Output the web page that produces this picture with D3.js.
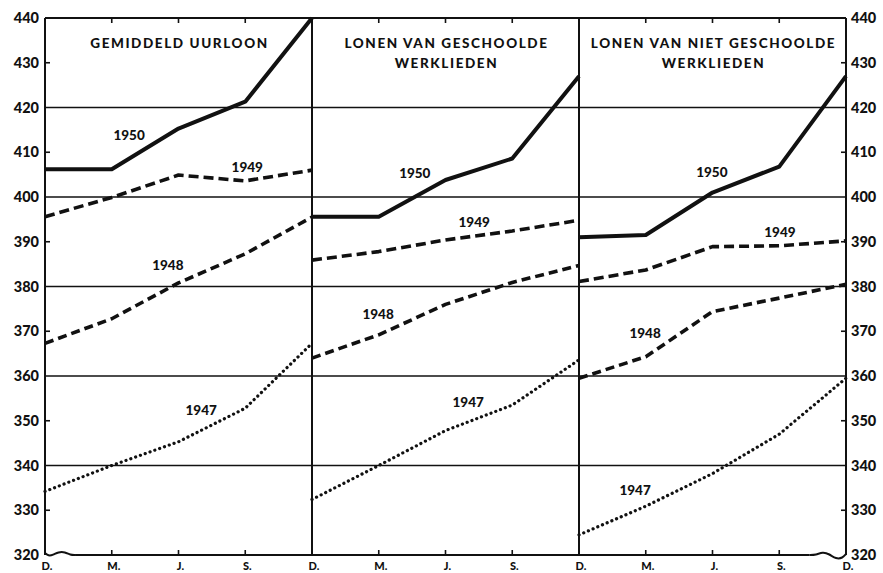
<!DOCTYPE html>
<html>
<head>
<meta charset="utf-8">
<script src="https://cdn.jsdelivr.net/npm/d3@7"></script>
<style>
  body { margin: 0; background: #fff; }
  svg { display: block; }
  text { font-family: Lato, "Open Sans", sans-serif; font-weight: 900; fill: #111; }
</style>
</head>
<body>
<svg id="chart" width="883" height="573"></svg>
<script>
// data (index numbers, one value per month D. M. J. S. D.)
const months = ['D.', 'M.', 'J.', 'S.', 'D.'];
const years = ['1950', '1949', '1948', '1947'];
const yTicks = [320, 330, 340, 350, 360, 370, 380, 390, 400, 410, 420, 430, 440];
const gridValues = [340, 360, 380, 400, 420];

const titles = [
  ['GEMIDDELD UURLOON'],
  ['LONEN VAN GESCHOOLDE', 'WERKLIEDEN'],
  ['LONEN VAN NIET GESCHOOLDE', 'WERKLIEDEN'],
];

// gemiddeld uurloon
const avg1950 = [406.2, 406.2, 415.3, 421.3, 440];
const avg1949 = [395.6, 399.9, 404.9, 403.6, 406];
const avg1948 = [367.3, 372.8, 380.8, 387.3, 395.5];
const avg1947 = [334.2, 340, 345.3, 352.8, 367.3];

// geschoolde werklieden
const skilled1950 = [395.6, 395.6, 403.8, 408.6, 427];
const skilled1949 = [385.9, 387.8, 390.4, 392.4, 394.8];
const skilled1948 = [364, 369.2, 376, 380.9, 384.7];
const skilled1947 = [332.4, 340, 347.8, 353.5, 363.6];

// niet geschoolde werklieden
const unskilled1950 = [391, 391.5, 401, 406.8, 427];
const unskilled1949 = [381.1, 383.7, 388.9, 389.1, 390.2];
const unskilled1948 = [359.5, 364.3, 374.4, 377.4, 380.5];
const unskilled1947 = [324.5, 330.9, 338.2, 347, 359.5];

// where the year labels sit, in month steps within a panel and index values
const labelSpots = [
  [[1.26, 413.9], [3.03, 406.7], [1.84, 384.8], [2.34, 352.4]],
  [[1.54, 405.4], [2.43, 394.3], [0.99, 373.9], [2.34, 354.2]],
  [[1.99, 405.6], [3.01, 392.2], [0.99, 369.6], [0.84, 334.5]],
];

const panels = [
  [avg1950, avg1949, avg1948, avg1947],
  [skilled1950, skilled1949, skilled1948, skilled1947],
  [unskilled1950, unskilled1949, unskilled1948, unskilled1947],
];

const margin = {left: 45, right: 37, top: 18, bottom: 18};
const W = 883, H = 573;
const svg = d3.select('#chart');

const x = d3.scaleLinear().domain([0, 12]).range([margin.left, W - margin.right]);
const y = d3.scaleLinear().domain([320, 440]).range([H - margin.bottom, margin.top]);

const styles = [
  {width: 4, dash: null, cap: 'butt'},
  {width: 3.6, dash: '10,5', cap: 'butt'},
  {width: 3.6, dash: '9,5', cap: 'butt'},
  {width: 3.2, dash: '0.1,5', cap: 'round'},
];

// gridlines
svg.append('g')
  .selectAll('line')
  .data(gridValues)
  .join('line')
  .attr('x1', x(0))
  .attr('x2', x(12))
  .attr('y1', d => y(d))
  .attr('y2', d => y(d))
  .attr('stroke', '#111')
  .attr('stroke-width', 1.6);

// y labels both sides
svg.append('g')
  .attr('transform', `translate(${x(0)},0)`)
  .call(d3.axisLeft(y).tickValues(yTicks).tickSize(0).tickPadding(6))
  .call(g => g.select('.domain').remove())
  .call(g => g.selectAll('text').style('font-size', '14.5px').attr('fill', '#111'));

svg.append('g')
  .attr('transform', `translate(${x(12)},0)`)
  .call(d3.axisRight(y).tickValues(yTicks).tickSize(0).tickPadding(5))
  .call(g => g.select('.domain').remove())
  .call(g => g.selectAll('text').style('font-size', '14.5px').attr('fill', '#111'));

// small ticks on the odd tens
const oddTicks = yTicks.filter(d => d % 20 === 10);
svg.append('g')
  .selectAll('line')
  .data(oddTicks)
  .join('line')
  .attr('x1', x(0))
  .attr('x2', x(0) + 5)
  .attr('y1', d => y(d))
  .attr('y2', d => y(d))
  .attr('stroke', '#111')
  .attr('stroke-width', 1.6);
svg.append('g')
  .selectAll('line')
  .data(oddTicks)
  .join('line')
  .attr('x1', x(12))
  .attr('x2', x(12) - 5)
  .attr('y1', d => y(d))
  .attr('y2', d => y(d))
  .attr('stroke', '#111')
  .attr('stroke-width', 1.6);

// month ticks top and bottom, and month labels
const monthIdx = d3.range(13);
svg.append('g')
  .selectAll('line')
  .data(monthIdx.filter(i => i % 4 !== 0))
  .join('line')
  .attr('x1', d => x(d))
  .attr('x2', d => x(d))
  .attr('y1', y(440))
  .attr('y2', y(440) + 5)
  .attr('stroke', '#111')
  .attr('stroke-width', 1.6);
svg.append('g')
  .selectAll('line')
  .data(monthIdx.filter(i => i % 4 !== 0))
  .join('line')
  .attr('x1', d => x(d))
  .attr('x2', d => x(d))
  .attr('y1', y(320))
  .attr('y2', y(320) - 5)
  .attr('stroke', '#111')
  .attr('stroke-width', 1.6);

svg.append('g')
  .selectAll('text')
  .data(monthIdx)
  .join('text')
  .attr('x', d => x(d) + 2)
  .attr('y', y(320) + 15)
  .attr('text-anchor', 'middle')
  .style('font-size', '11px')
  .text(d => months[d % 4 === 0 ? 0 : d % 4]);

// frame and panel dividers
svg.append('g')
  .selectAll('line')
  .data([0, 4, 8, 12])
  .join('line')
  .attr('x1', d => x(d))
  .attr('x2', d => x(d))
  .attr('y1', y(440))
  .attr('y2', y(320))
  .attr('stroke', '#111')
  .attr('stroke-width', 2);
svg.append('line')
  .attr('x1', x(0)).attr('x2', x(12))
  .attr('y1', y(440)).attr('y2', y(440))
  .attr('stroke', '#111').attr('stroke-width', 2);

// bottom line with the scale break waves at both ends
const wave = d3.line().curve(d3.curveBasis);
const bottomLeft = [
  [x(0), y(320) - 2], [x(0.05), y(320) + 1], [x(0.12), y(320)], [x(0.2), y(320) - 3],
  [x(0.3), y(320) - 3], [x(0.38), y(320)], [x(0.45), y(320)],
];
svg.append('path')
  .attr('d', wave(bottomLeft))
  .attr('fill', 'none').attr('stroke', '#111').attr('stroke-width', 2);
svg.append('line')
  .attr('x1', x(0.45)).attr('x2', x(11.45))
  .attr('y1', y(320)).attr('y2', y(320))
  .attr('stroke', '#111').attr('stroke-width', 2);
const bottomRight = [
  [x(11.45), y(320)], [x(11.55), y(320)], [x(11.65), y(320) - 3], [x(11.75), y(320) - 1],
  [x(11.85), y(320) + 4], [x(11.95), y(320) + 3], [x(12), y(320) - 1],
];
svg.append('path')
  .attr('d', wave(bottomRight))
  .attr('fill', 'none').attr('stroke', '#111').attr('stroke-width', 2);

// series
const line = d3.line()
  .x(d => x(d[0]))
  .y(d => y(d[1]));

panels.forEach((series, p) => {
  const g = svg.append('g').attr('class', `panel-${p}`);
  series.forEach((vals, k) => {
    const pts = vals.map((v, i) => [p * 4 + i, v]);
    const s = styles[k];
    g.append('path')
      .attr('d', line(pts))
      .attr('fill', 'none')
      .attr('stroke', '#111')
      .attr('stroke-width', s.width)
      .attr('stroke-linecap', s.cap)
      .attr('stroke-linejoin', 'round')
      .attr('stroke-dasharray', s.dash);
  });

  g.selectAll('text.year')
    .data(labelSpots[p])
    .join('text')
    .attr('class', 'year')
    .attr('x', d => x(p * 4 + d[0]))
    .attr('y', d => y(d[1]))
    .attr('dy', '0.35em')
    .attr('text-anchor', 'middle')
    .style('font-size', '13.5px')
    .text((d, k) => years[k]);

  g.selectAll('text.title')
    .data(titles[p])
    .join('text')
    .attr('class', 'title')
    .attr('x', x(p * 4 + 2) + 1)
    .attr('y', (d, i) => y(440) + 25 + i * 20)
    .attr('dy', '0.35em')
    .attr('text-anchor', 'middle')
    .style('font-size', '13.5px')
    .style('letter-spacing', '1.6px')
    .text(d => d);
});
</script>
</body>
</html>
